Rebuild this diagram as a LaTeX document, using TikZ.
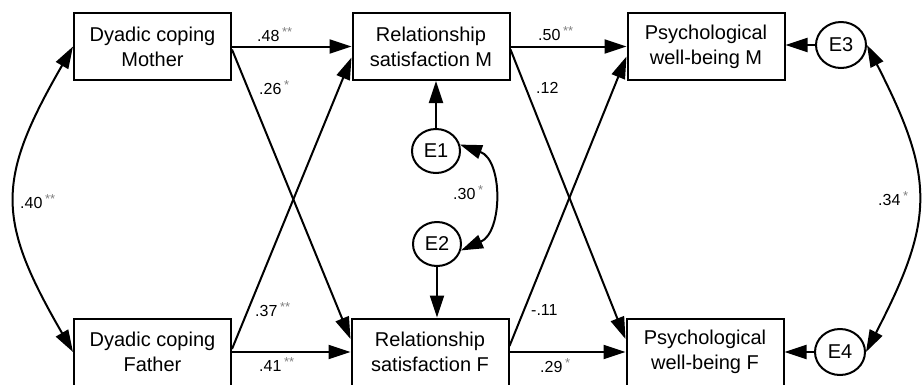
\documentclass[tikz,border=0pt]{standalone}
\usepackage{fontspec}
\setmainfont{Liberation Sans}
\usetikzlibrary{arrows.meta,shapes.geometric,calc}
\definecolor{starc}{gray}{0.5}
\newcommand{\sigstars}[1]{\,\raisebox{5pt}{\fontsize{13}{13}\selectfont\color{starc}#1}}
\begin{document}
\begin{tikzpicture}[x=1pt,y=-1pt,
  var/.style={draw,line width=2pt,minimum width=157pt,minimum height=67pt,inner sep=0pt,align=center,font=\fontsize{20}{25}\selectfont},
  err/.style={draw,ellipse,line width=2pt,minimum width=48pt,minimum height=44pt,inner sep=0pt,font=\fontsize{20}{24}\selectfont},
  arr/.style={line width=2pt,-{Triangle[length=22pt,width=14pt]}},
  cov/.style={line width=2pt,{Triangle[length=22pt,width=14pt]}-{Triangle[length=22pt,width=14pt]}},
  coef/.style={anchor=west,inner sep=0pt,font=\fontsize{16}{16}\selectfont}
]
\useasboundingbox (0,0) rectangle (922,384);

% variables
\node[var] (DCM) at (152.5,46.5) {Dyadic coping\\Mother};
\node[var] (RSM) at (431,46.5) {Relationship\\satisfaction M};
\node[var] (PWM) at (706,46.5) {Psychological\\well-being M};
\node[var] (DCF) at (152.5,352) {Dyadic coping\\Father};
\node[var] (RSF) at (430,352) {Relationship\\satisfaction F};
\node[var] (PWF) at (705,352) {Psychological\\well-being F};

% errors
\node[err] (E1) at (436,151) {E1};
\node[err] (E2) at (437,244) {E2};
\node[err,minimum width=50pt,minimum height=46pt] (E3) at (841,45) {E3};
\node[err,minimum width=50pt,minimum height=46pt] (E4) at (840,352) {E4};

% paths
\draw[arr] (DCM.east) -- (DCM.east -| RSM.west);
\draw[arr] ($(DCM.east)+(0,3)$) -- ($(RSF.west)+(0,-13)$);
\draw[arr] ($(DCF.east)+(0,-3)$) -- ($(RSM.west)+(0,11)$);
\draw[arr] (DCF.east) -- (DCF.east -| RSF.west);

\draw[arr] (RSM.east) -- (RSM.east -| PWM.west);
\draw[arr] ($(RSM.east)+(0,3)$) -- ($(PWF.west)+(0,-13)$);
\draw[arr] ($(RSF.east)+(0,-6)$) -- ($(PWM.west)+(0,10)$);
\draw[arr] (RSF.east) -- (RSF.east -| PWF.west);

\draw[arr] (E1.north) -- (E1.north |- RSM.south);
\draw[arr] (E2.south) -- (E2.south |- RSF.north);
\draw[arr] (E3.west) -- (E3.west -| PWM.east);
\draw[arr] (E4.west) -- (E4.west -| PWF.east);

% covariances
\draw[cov] (DCM.west) .. controls (-4,180) and (-4,219) .. (DCF.west);
\draw[cov] (E1.15) .. controls (503,160) and (503,232) .. (E2.-15);
\draw[cov] (E3.east) .. controls (935,178) and (935,219) .. (E4.east);

% coefficients
\node[coef] (c48) at (257,35) {.48\sigstars{**}};
\node[coef] (c26) at (259,88) {.26\sigstars{*}};
\node[coef] (c37) at (255,310) {.37\sigstars{**}};
\node[coef] (c41) at (259,365) {.41\sigstars{**}};
\node[coef] (c50) at (538,34) {.50\sigstars{**}};
\node[coef] (c12) at (536,88) {.12};
\node[coef] (c11) at (531,310) {-.11};
\node[coef] (c29) at (540,366) {.29\sigstars{*}};
\node[coef] (c30) at (453,193) {.30\sigstars{*}};
\node[coef] (c40) at (20,202) {.40\sigstars{**}};
\node[coef] (c34) at (878,199) {.34\sigstars{*}};
\end{tikzpicture}
\end{document}
